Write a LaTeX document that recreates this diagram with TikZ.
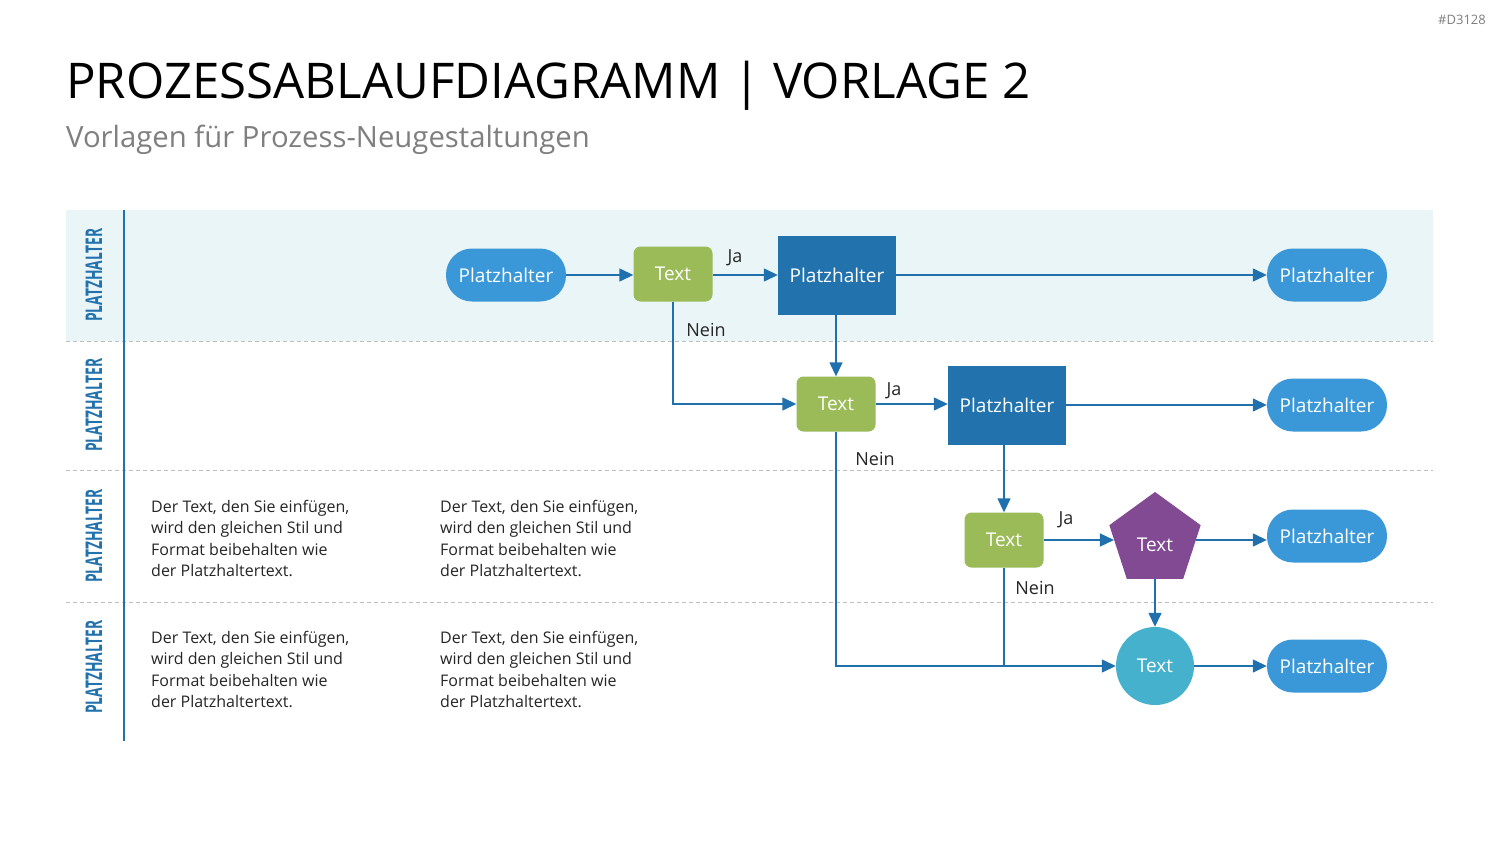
\documentclass[tikz,border=0pt]{standalone}
\usepackage{fontspec}
\setmainfont{Open Sans}
\usetikzlibrary{arrows.meta,shapes.geometric}
\definecolor{pillblue}{HTML}{3A98D8}
\definecolor{darkblue}{HTML}{2272AD}
\definecolor{boxgreen}{HTML}{9BBB59}
\definecolor{purp}{HTML}{824A93}
\definecolor{teal}{HTML}{46B1CC}
\definecolor{arrowblue}{HTML}{2070AE}
\definecolor{lanefill}{HTML}{EAF5F8}
\definecolor{dashgray}{HTML}{BFBFBF}
\definecolor{subgray}{HTML}{7F7F7F}
\definecolor{txtdark}{HTML}{262626}
\begin{document}
\begin{tikzpicture}[x=1pt,y=-1pt,
  pill/.style={rectangle,rounded corners=26pt,fill=pillblue,minimum width=120pt,minimum height=53pt,inner sep=0pt,text=white,font=\fontsize{19}{22}\selectfont},
  greenbox/.style={rectangle,rounded corners=7pt,fill=boxgreen,minimum width=79pt,minimum height=55pt,inner sep=0pt,text=white,font=\fontsize{19}{22}\selectfont},
  bluebox/.style={rectangle,fill=darkblue,minimum width=118pt,minimum height=79pt,inner sep=0pt,text=white,font=\fontsize{19}{22}\selectfont},
  pentagon/.style={regular polygon,regular polygon sides=5,fill=purp,minimum size=96pt,inner sep=0pt},
  pentatext/.style={text=white,inner sep=0pt,font=\fontsize{19}{22}\selectfont,yshift=-5pt},
  circ/.style={circle,fill=teal,minimum size=78pt,inner sep=0pt,text=white,font=\fontsize{19}{22}\selectfont},
  arr/.style={draw=arrowblue,line width=1.4pt,-{Triangle[length=14pt,width=13pt]}},
  conn/.style={draw=arrowblue,line width=1.4pt},
  lbl/.style={text=txtdark,font=\fontsize{18}{21}\selectfont,inner sep=0pt},
  lanelbl/.style={rotate=90,text=darkblue,inner sep=0pt,font=\fontsize{23}{25}\selectfont\bfseries},
  lanedash/.style={draw=dashgray,line width=1pt,dash pattern=on 4pt off 3pt},
  bodytxt/.style={anchor=north west,align=left,inner sep=0pt,text=txtdark,font=\fontsize{16}{21.3}\selectfont}
]
\useasboundingbox (0,0) rectangle (1500,844);
\fill[white] (0,0) rectangle (1500,844);

% header
\node[anchor=east,inner sep=0pt,text=subgray,font=\fontsize{13}{15}\selectfont] (tag) at (1486,20) {\#D3128};
\node[anchor=west,inner sep=0pt,text=black,font=\fontsize{49.2}{56}\selectfont] (title) at (66,86) {PROZESSABLAUFDIAGRAMM | VORLAGE 2};
\node[anchor=west,inner sep=0pt,text=subgray,font=\fontsize{29.3}{34}\selectfont] (subtitle) at (66,140) {Vorlagen für Prozess-Neugestaltungen};

% lanes
\fill[lanefill] (66,210) rectangle (1433,341);
\draw[lanedash] (66,341) -- (1433,341);
\draw[lanedash] (66,470) -- (1433,470);
\draw[lanedash] (66,602) -- (1433,602);
\draw[draw=darkblue,line width=1.5pt] (124,210) -- (124,741);

\node[lanelbl] (l1) at (94,275) {\scalebox{0.6}[1]{PLATZHALTER}};
\node[lanelbl] (l2) at (94,405) {\scalebox{0.6}[1]{PLATZHALTER}};
\node[lanelbl] (l3) at (94,536) {\scalebox{0.6}[1]{PLATZHALTER}};
\node[lanelbl] (l4) at (94,667) {\scalebox{0.6}[1]{PLATZHALTER}};

% body texts
\node[bodytxt] (b31) at (151,500) {Der Text, den Sie einfügen,\\wird den gleichen Stil und\\Format beibehalten wie\\der Platzhaltertext.};
\node[bodytxt] (b32) at (440,500) {Der Text, den Sie einfügen,\\wird den gleichen Stil und\\Format beibehalten wie\\der Platzhaltertext.};
\node[bodytxt] (b41) at (151,631) {Der Text, den Sie einfügen,\\wird den gleichen Stil und\\Format beibehalten wie\\der Platzhaltertext.};
\node[bodytxt] (b42) at (440,631) {Der Text, den Sie einfügen,\\wird den gleichen Stil und\\Format beibehalten wie\\der Platzhaltertext.};

% nodes
\node[pill] (p1) at (506,275) {Platzhalter};
\node[greenbox] (t1) at (673,274) {Text};
\node[bluebox] (s1) at (837,275) {Platzhalter};
\node[pill] (e1) at (1327,275) {Platzhalter};

\node[greenbox] (t2) at (836,404) {Text};
\node[bluebox] (s2) at (1007,405) {Platzhalter};
\node[pill] (e2) at (1327,405) {Platzhalter};

\node[greenbox] (t3) at (1004,540) {Text};
\node[pentagon,label={[pentatext]center:Text}] (pg) at (1155,540) {};
\node[pill] (e3) at (1327,536) {Platzhalter};

\node[circ] (c1) at (1155,666) {Text};
\node[pill] (e4) at (1327,666) {Platzhalter};

% connectors
\draw[arr] (p1) -- (t1.west |- p1);
\draw[arr] (t1.east |- s1) -- (s1);
\draw[arr] (s1) -- (e1);
\draw[arr] (s1.south -| t2) -- (t2);
\draw[arr] (t1.south) |- (t2.west);
\draw[arr] (t2) -- (s2.west |- t2);
\draw[arr] (s2) -- (e2.west |- s2);
\draw[arr] (s2.south -| t3) -- (t3);
\draw[arr] (t2.south) |- (c1.west);
\draw[conn] (t3.south) -- (t3.south |- c1);
\draw[arr] (t3) -- (pg);
\draw[arr] (pg) -- (pg -| e3.west);
\draw[arr] (pg.south) -- (c1);
\draw[arr] (c1) -- (e4);

% labels
\node[lbl] (ja1) at (735,258) {Ja};
\node[lbl] (nein1) at (706,330) {Nein};
\node[lbl] (ja2) at (894,391) {Ja};
\node[lbl] (nein2) at (875,459) {Nein};
\node[lbl] (ja3) at (1066,520) {Ja};
\node[lbl] (nein3) at (1035,588) {Nein};
\end{tikzpicture}
\end{document}
